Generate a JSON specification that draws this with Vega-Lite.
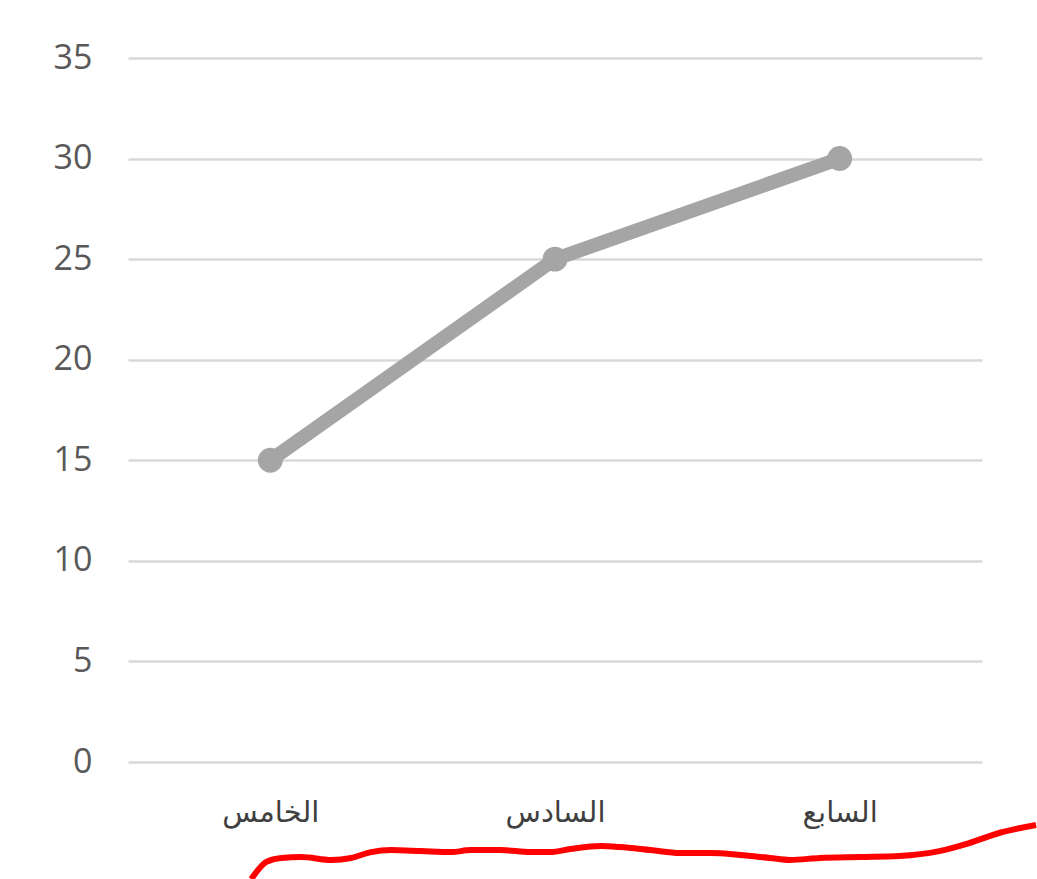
{
  "$schema": "https://vega.github.io/schema/vega-lite/v6.json",
  "autosize": "none",
  "width": 854,
  "height": 704,
  "padding": {"left": 128, "top": 58, "right": 55, "bottom": 117},
  "background": "#ffffff",
  "config": {"view": {"stroke": null}},
  "datasets": {
    "main": [
      {"grade": "الخامس", "value": 15},
      {"grade": "السادس", "value": 25},
      {"grade": "السابع", "value": 30}
    ],
    "scribble": [
      {"t": 0, "x": -0.067, "y": -5.82},
      {"t": 1, "x": -0.014, "y": -4.97},
      {"t": 2, "x": 0.039, "y": -4.77},
      {"t": 3, "x": 0.109, "y": -4.72},
      {"t": 4, "x": 0.214, "y": -4.87},
      {"t": 5, "x": 0.284, "y": -4.77},
      {"t": 6, "x": 0.354, "y": -4.48},
      {"t": 7, "x": 0.424, "y": -4.38},
      {"t": 8, "x": 0.529, "y": -4.43},
      {"t": 9, "x": 0.634, "y": -4.48},
      {"t": 10, "x": 0.704, "y": -4.38},
      {"t": 11, "x": 0.809, "y": -4.38},
      {"t": 12, "x": 0.914, "y": -4.48},
      {"t": 13, "x": 0.984, "y": -4.48},
      {"t": 14, "x": 1.054, "y": -4.33},
      {"t": 15, "x": 1.16, "y": -4.18},
      {"t": 16, "x": 1.229, "y": -4.23},
      {"t": 17, "x": 1.335, "y": -4.38},
      {"t": 18, "x": 1.44, "y": -4.53},
      {"t": 19, "x": 1.545, "y": -4.53},
      {"t": 20, "x": 1.65, "y": -4.62},
      {"t": 21, "x": 1.755, "y": -4.77},
      {"t": 22, "x": 1.825, "y": -4.87},
      {"t": 23, "x": 1.93, "y": -4.77},
      {"t": 24, "x": 2.07, "y": -4.72},
      {"t": 25, "x": 2.21, "y": -4.67},
      {"t": 26, "x": 2.35, "y": -4.43},
      {"t": 27, "x": 2.455, "y": -4.03},
      {"t": 28, "x": 2.56, "y": -3.53},
      {"t": 29, "x": 2.69, "y": -3.13}
    ]
  },
  "layer": [
    {
      "data": {"name": "main"},
      "mark": {"type": "line", "color": "#a5a5a5", "strokeWidth": 14, "strokeJoin": "round", "point": {"filled": true, "color": "#a5a5a5", "size": 620, "opacity": 1}},
      "encoding": {
        "x": {
          "field": "grade", "type": "ordinal", "sort": null,
          "scale": {"type": "point", "padding": 0.5},
          "axis": {"title": null, "domain": false, "ticks": false, "grid": false, "labelAngle": 0,
                   "labelFont": "DejaVu Sans", "labelFontSize": 29, "labelColor": "#404040", "labelPadding": 36}
        },
        "y": {
          "field": "value", "type": "quantitative",
          "scale": {"domain": [0, 35], "nice": false, "zero": true},
          "axis": {"title": null, "values": [0, 5, 10, 15, 20, 25, 30, 35], "domain": false, "ticks": false,
                   "grid": true, "gridColor": "#d9d9d9", "gridWidth": 2.5,
                   "labelFont": "Open Sans", "labelFontSize": 34, "labelColor": "#595959", "labelPadding": 36}
        }
      }
    },
    {
      "data": {"name": "scribble"},
      "mark": {"type": "line", "color": "#ff0000", "strokeWidth": 6, "interpolate": "monotone", "clip": false},
      "encoding": {
        "x": {"field": "x", "type": "quantitative", "scale": {"domain": [-0.5, 2.5], "nice": false, "zero": false}, "axis": null},
        "y": {"field": "y", "type": "quantitative"},
        "order": {"field": "t", "type": "quantitative"}
      }
    }
  ],
  "resolve": {"scale": {"x": "independent"}}
}
